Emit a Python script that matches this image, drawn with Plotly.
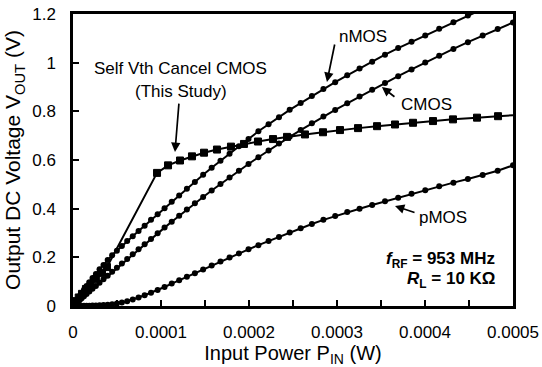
import plotly.graph_objects as go

# Input power grid (µW) shared by nMOS / CMOS / pMOS measurements
P_IN_uW = [0, 0.154, 0.616, 1.385, 2.462, 3.847, 5.54, 7.541, 9.849, 12.465,
           15.389, 18.621, 22.16, 26.008, 30.163, 34.626, 39.397, 44.476, 49.862, 55.556,
           61.558, 67.868, 74.485, 81.41, 88.643, 96.184, 104.03, 112.19, 120.65, 129.42,
           138.5, 147.89, 157.59, 167.59, 177.9, 188.52, 199.45, 210.68, 222.22, 234.07,
           246.23, 258.7, 271.47, 284.55, 297.94, 311.63, 325.64, 339.95, 354.57, 369.5,
           384.73, 400.28, 416.13, 432.28, 448.75, 465.52, 482.61, 500.0]

V_NMOS = [0, 0.0008, 0.0034, 0.0076, 0.0135, 0.021, 0.030, 0.041, 0.054, 0.067,
          0.082, 0.098, 0.115, 0.132, 0.151, 0.169, 0.189, 0.209, 0.227, 0.247,
          0.267, 0.287, 0.308, 0.330, 0.354, 0.377, 0.402, 0.428, 0.454, 0.482,
          0.510, 0.539, 0.568, 0.597, 0.626, 0.656, 0.686, 0.718, 0.747, 0.776,
          0.806, 0.834, 0.863, 0.892, 0.920, 0.948, 0.976, 1.004, 1.033, 1.060,
          1.086, 1.112, 1.139, 1.166, 1.194, 1.221, 1.249, 1.277]

V_CMOS = [0, 0.0005, 0.002, 0.0044, 0.0079, 0.0123, 0.0177, 0.0241, 0.0314, 0.0397,
          0.049, 0.0592, 0.0704, 0.0826, 0.0956, 0.1096, 0.1245, 0.1403, 0.1571, 0.1747,
          0.1932, 0.2126, 0.2328, 0.2539, 0.2758, 0.2985, 0.3221, 0.3462, 0.3709, 0.3961,
          0.4218, 0.4479, 0.4745, 0.5014, 0.5285, 0.5559, 0.5836, 0.6114, 0.6393, 0.6673,
          0.6952, 0.7231, 0.7509, 0.7785, 0.8059, 0.8331, 0.8606, 0.8883, 0.9162, 0.9442,
          0.9723, 1.0005, 1.0286, 1.0565, 1.0842, 1.1115, 1.1385, 1.165]

V_PMOS = [0, 0, 0, 0, 0, 0, 0, 0, 0, 0.001,
          0.001, 0.001, 0.002, 0.002, 0.003, 0.004, 0.005, 0.007, 0.010, 0.014,
          0.020, 0.027, 0.035, 0.044, 0.054, 0.066, 0.078, 0.092, 0.106, 0.120,
          0.135, 0.150, 0.166, 0.183, 0.199, 0.216, 0.233, 0.250, 0.267, 0.284,
          0.302, 0.320, 0.337, 0.354, 0.370, 0.386, 0.400, 0.415, 0.430, 0.445,
          0.461, 0.476, 0.492, 0.507, 0.522, 0.538, 0.556, 0.578]

# Self Vth Cancel CMOS (this study): measured points with markers
SELF_P_uW = [0, 0.4, 1.6, 3.7, 6.5, 10.2, 14.7, 20.0, 26.0, 33.0, 38.6,
             95.5, 108.0, 121.6, 135.2, 148.9, 163.6, 179.5, 194.3, 210.2, 227.3,
             243.2, 263.6, 284.1, 303.4, 323.9, 345.5, 365.9, 386.4, 409.1, 431.8,
             459.1, 483.0]
SELF_V = [0, 0.002, 0.009, 0.020, 0.035, 0.050, 0.070, 0.090, 0.110, 0.135, 0.160,
          0.547, 0.578, 0.598, 0.615, 0.630, 0.643, 0.655, 0.666, 0.676, 0.686,
          0.695, 0.705, 0.714, 0.723, 0.731, 0.739, 0.746, 0.753, 0.760, 0.767,
          0.774, 0.780]
# line continuation of the same curve to the plot edge (no marker)
SELF_TAIL_P_uW = [483.0, 500.0]
SELF_TAIL_V = [0.780, 0.784]

X_TICKS = [0, 0.0001, 0.0002, 0.0003, 0.0004, 0.0005]
X_TICK_TEXT = ["0", "0.0001", "0.0002", "0.0003", "0.0004", "0.0005"]
Y_TICKS = [0, 0.2, 0.4, 0.6, 0.8, 1.0, 1.2]
Y_TICK_TEXT = ["0", "0.2", "0.4", "0.6", "0.8", "1", "1.2"]

W = 1e-6
x_grid = [p * W for p in P_IN_uW]
x_self = [p * W for p in SELF_P_uW]
x_tail = [p * W for p in SELF_TAIL_P_uW]

FONT = "Liberation Sans, Arial, sans-serif"
fig = go.Figure()
for name, ys in [("nMOS", V_NMOS), ("CMOS", V_CMOS), ("pMOS", V_PMOS)]:
    fig.add_trace(go.Scatter(x=x_grid, y=ys, mode="lines+markers", name=name,
                             line=dict(color="black", width=2),
                             marker=dict(color="black", size=6, symbol="circle",
                                         line=dict(width=0))))
fig.add_trace(go.Scatter(x=x_tail, y=SELF_TAIL_V, mode="lines", name="tail",
                         line=dict(color="black", width=2)))
fig.add_trace(go.Scatter(x=x_self, y=SELF_V, mode="lines+markers", name="Self Vth Cancel CMOS",
                         line=dict(color="black", width=2),
                         marker=dict(color="#000000", size=7, symbol="square",
                                     opacity=1, line=dict(width=1, color="#000000"))))

def arrow(xh, yh, xt, yt):
    fig.add_annotation(x=xh * W, y=yh, ax=xt * W, ay=yt, xref="x", yref="y",
                       axref="x", ayref="y", text="", showarrow=True,
                       arrowhead=2, arrowsize=1.1, arrowwidth=1.7, arrowcolor="black")

def label(xc, yc, txt, size=17, xanchor="center"):
    fig.add_annotation(x=xc * W, y=yc, xref="x", yref="y", text=txt, showarrow=False,
                       xanchor=xanchor, yanchor="middle",
                       font=dict(family=FONT, size=size, color="black"))

arrow(115.9, 0.633, 120.5, 0.838)
arrow(288.6, 0.921, 297.7, 1.081)
arrow(351.0, 0.900, 367.0, 0.855)
arrow(365.9, 0.411, 389.8, 0.382)
label(122.7, 0.978, "Self Vth Cancel CMOS")
label(122.7, 0.880, "(This Study)")
label(329.5, 1.106, "nMOS")
label(402.0, 0.830, "CMOS")
label(420.0, 0.362, "pMOS")
label(481.8, 0.189, "<b><i>f</i><sub>RF</sub> = 953 MHz</b>", xanchor="right")
label(481.8, 0.107, "<b><i>R</i><sub>L</sub> = 10 KΩ</b>", xanchor="right")

fig.update_layout(
    width=542, height=367, autosize=False,
    margin=dict(l=73, r=29, t=14, b=61),
    paper_bgcolor="white", plot_bgcolor="white",
    showlegend=False,
    font=dict(family=FONT, size=17, color="black"),
)
fig.update_xaxes(range=[0, 0.0005], tickvals=X_TICKS, ticktext=X_TICK_TEXT,
                 ticks="inside", ticklen=6, tickwidth=1.5, tickcolor="black",
                 minor=dict(dtick=0.00005, ticks="inside", ticklen=6, tickwidth=1.5, tickcolor="black"),
                 showline=True, linecolor="black", linewidth=2.5, mirror=True,
                 showgrid=False, zeroline=False, ticklabelstandoff=9, automargin=False,
                 tickfont=dict(size=17),
                 title=dict(text="Input Power P<sub>IN</sub> (W)", font=dict(size=20), standoff=6))
fig.update_yaxes(range=[0, 1.2], tickvals=Y_TICKS, ticktext=Y_TICK_TEXT,
                 ticks="inside", ticklen=6, tickwidth=1.5, tickcolor="black",
                 showline=True, linecolor="black", linewidth=2.5, mirror=True,
                 showgrid=False, zeroline=False, ticklabelstandoff=11, automargin=False,
                 tickfont=dict(size=17),
                 title=dict(text="Output DC Voltage V<sub>OUT</sub> (V)", font=dict(size=21), standoff=6))

fig.write_html("out.html")
